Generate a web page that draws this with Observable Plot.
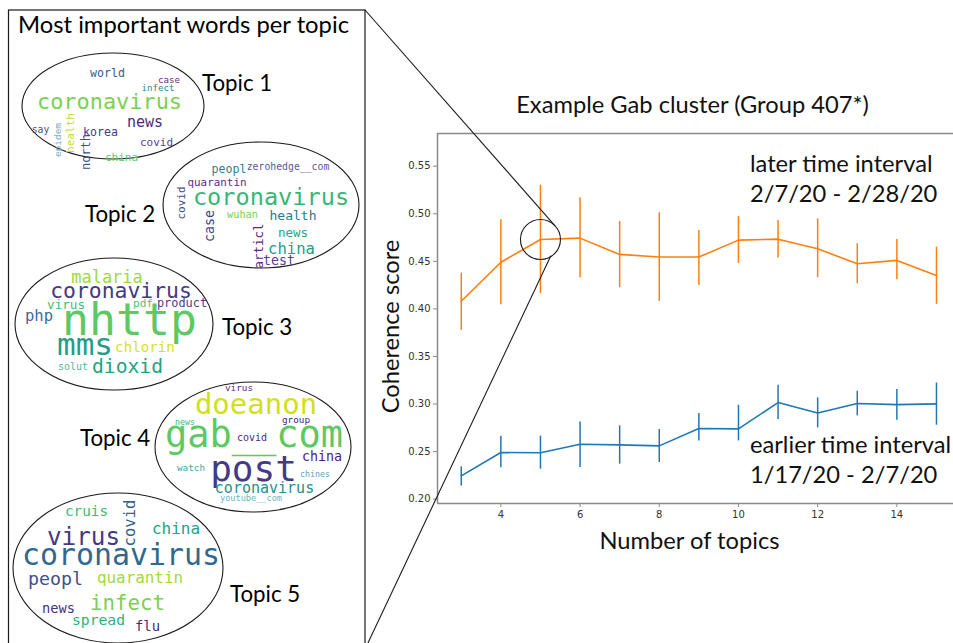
<!DOCTYPE html>
<html>
<head>
<meta charset="utf-8">
<script src="https://cdn.jsdelivr.net/npm/d3@7"></script>
<script src="https://cdn.jsdelivr.net/npm/@observablehq/plot@0.6"></script>
<style>
html,body{margin:0;padding:0;background:#fff;}
#chart{width:953px;height:643px;overflow:hidden;}
</style>
</head>
<body>
<div id="chart"></div>
<script>
// ================= DATA =================
const topics = [3, 4, 5, 6, 7, 8, 9, 10, 11, 12, 13, 14, 15];

// later time interval (orange)
const laterMean = [0.408, 0.449, 0.473, 0.4744, 0.4573, 0.4545, 0.4545, 0.4723, 0.4733, 0.4632, 0.4475, 0.451, 0.4352];
const laterLow  = [0.3775, 0.4044, 0.416, 0.4328, 0.4223, 0.408, 0.4247, 0.4478, 0.4534, 0.4328, 0.4265, 0.4307, 0.4048];
const laterHigh = [0.4376, 0.4937, 0.530, 0.5168, 0.4919, 0.501, 0.4824, 0.4971, 0.4929, 0.4947, 0.4685, 0.473, 0.4649];

// earlier time interval (blue)
const earlierMean = [0.2245, 0.249, 0.2487, 0.2577, 0.257, 0.256, 0.2742, 0.2739, 0.3015, 0.2906, 0.3005, 0.2994, 0.3001];
const earlierLow  = [0.2137, 0.2329, 0.2315, 0.2333, 0.2368, 0.2385, 0.2612, 0.2612, 0.2837, 0.2749, 0.2875, 0.2829, 0.2777];
const earlierHigh = [0.2339, 0.2662, 0.2662, 0.2812, 0.277, 0.2732, 0.290, 0.2987, 0.3197, 0.3064, 0.3134, 0.3152, 0.3221];

const xTicks = [4, 6, 8, 10, 12, 14];
const yTicks = [0.20, 0.25, 0.30, 0.35, 0.40, 0.45, 0.50, 0.55];

const chartTitle = "Example Gab cluster (Group 407*)";
const xLabel = "Number of topics";
const yLabel = "Coherence score";
const annotationTexts = ["later time interval", "2/7/20 - 2/28/20", "earlier time interval", "1/17/20 - 2/7/20"];
const zoomTopic = 5; // number of topics highlighted by the callout circle

const panelTitle = "Most important words per topic";
const topicNames = ["Topic 1", "Topic 2", "Topic 3", "Topic 4", "Topic 5"];
const topicWords = [
  ["world", "case", "infect", "coronavirus", "news", "say", "epidem", "health", "korea", "north", "covid", "china"],
  ["peopl", "zerohedge__com", "quarantin", "covid", "coronavirus", "wuhan", "health", "case", "news", "articl", "china", "test"],
  ["malaria", "coronavirus", "virus", "pdf", "product", "php", "nhttp", "mms", "chlorin", "solut", "dioxid"],
  ["virus", "doeanon", "news", "group", "gab__com", "covid", "china", "watch", "post", "chines", "coronavirus", "youtube__com"],
  ["cruis", "covid", "china", "virus", "coronavirus", "peopl", "quarantin", "news", "infect", "spread", "flu"]
];

// ================= LAYOUT / STYLE =================
const ORANGE = "#ff7f0e", BLUE = "#1f77b4", SPINE = "#8a8a8a";
const LABEL_FONT = "Lato, 'Open Sans', sans-serif";
const CLOUD_FONT = "'DejaVu Sans Mono', monospace";
const xDomain = [2.4, 15.43];
const yDomain = [0.1954, 0.5844];

// annotation anchor positions (data units)
const annotX = [10.29, 10.29, 10.29, 10.29];
const annotY = [0.5517, 0.5207, 0.2566, 0.2251];

// word cloud panel layout (pixels): [x, y, fontSize, rotate, color]
const wordLayout = [
  [[107.5,73,11.6,0,"#3e5a94"],[169,80,9.1,0,"#6b2a80"],[158,88,9.1,0,"#2a8a8c"],[109.5,101,21.9,0,"#7ad151"],
   [145,122,15,0,"#4b2a7d"],[40.5,129,9.7,0,"#4a4f8f"],[57,140,9.4,-90,"#7aa9c0"],[70,133,11.1,-90,"#c8dc3a"],
   [100.5,132,11.6,0,"#433e85"],[86,152,12,-90,"#3b528b"],[156.5,142,11,0,"#5a3e8f"],[121.5,157,11,0,"#5ec962"]],
  [[229,169,11.6,0,"#2c7f8e"],[288,166,9.8,0,"#5a5892"],[217,182,10.9,0,"#5b2d82"],[181,203,11,-90,"#45458a"],
   [271,197,23.6,0,"#35b779"],[242.5,214,10.3,0,"#7ad151"],[293,215,13,0,"#2a788e"],[209,226,13.3,-90,"#3e4989"],
   [293,232,12.5,0,"#22a884"],[258,246,12.5,-90,"#5b2a86"],[291.5,249,15.6,0,"#1f9e89"],[279,260,13.3,0,"#5b3f8f"]],
  [[107,277,17,0,"#a0da39"],[121,290,21.4,0,"#443983"],[66,304,12.6,0,"#3fbc73"],[143,303,11,0,"#4fc36a"],
   [182,303,11.9,0,"#4e3b8f"],[39,316,15.5,0,"#3b6c9e"],[129.5,319,44.8,0,"#5ec962"],[85,344,31,0,"#1f9e89"],
   [145,347,14.2,0,"#d8e219"],[73,366,10,0,"#4fb8a5"],[127.5,366,19.7,0,"#20a486"]],
  [[239,387,9.3,0,"#5b2a86"],[256,404,29,0,"#d0e11c"],[185,422,8.3,0,"#3bbb75"],[296,419,9.3,0,"#482878"],
   [254,434,37,0,"#5ec962"],[252,437,10,0,"#472d7b"],[322,456,13.3,0,"#482475"],[191,467,9.3,0,"#4aa3a8"],
   [253.5,468,36,0,"#443983"],[315,474,8.3,0,"#5aa4b8"],[264.5,488,15,0,"#21918c"],[251,498,8.6,0,"#6fb4c6"]],
  [[86.5,511,14.3,0,"#3cbb75"],[130,523,15.6,-90,"#33638d"],[176,528,16,0,"#25a18e"],[83.5,536,24.3,0,"#443983"],
   [121,554,29.9,0,"#31688e"],[55.5,578,18.3,0,"#3b528b"],[140,577,15.9,0,"#a0da39"],[58.5,608,13.7,0,"#46327e"],
   [127.5,603,20.8,0,"#7ad151"],[98.5,619,14.7,0,"#2db27d"],[147.5,626,13.8,0,"#482878"]]
];
// ellipses: [cx, cy, rx, ry]
const ellipseLayout = [[113,106,91,53],[261,205,98,63],[114,324,99,66],[253,447,98,65],[118,568,105,75]];
// topic label positions: [x (start), baseline]
const topicLabelLayout = [[202,91],[85,222],[222,335],[80,446],[230,602]];

// ================= BUILD =================
const later = topics.map((t, i) => ({t, m: laterMean[i], lo: laterLow[i], hi: laterHigh[i]}));
const earlier = topics.map((t, i) => ({t, m: earlierMean[i], lo: earlierLow[i], hi: earlierHigh[i]}));
const annots = annotationTexts.map((text, i) => ({text, x: annotX[i], y: annotY[i]}));
const zoomPoint = later.filter(d => d.t === zoomTopic);

function leftPanel() {
  const g = d3.create("svg:g");
  g.append("rect").attr("x", 8.5).attr("y", 10).attr("width", 356.5).attr("height", 660)
    .attr("fill", "none").attr("stroke", "#1a1a1a").attr("stroke-width", 1.2);
  g.append("text").attr("x", 18).attr("y", 33).attr("text-anchor", "start")
    .attr("font-family", LABEL_FONT).attr("font-size", 23.8).attr("fill", "#000").text(panelTitle);
  ellipseLayout.forEach(([cx, cy, rx, ry]) => {
    g.append("ellipse").attr("cx", cx).attr("cy", cy).attr("rx", rx).attr("ry", ry)
      .attr("fill", "none").attr("stroke", "#1a1a1a").attr("stroke-width", 1.1);
  });
  topicNames.forEach((name, i) => {
    const [x, y] = topicLabelLayout[i];
    g.append("text").attr("x", x).attr("y", y).attr("text-anchor", "start")
      .attr("font-family", LABEL_FONT).attr("font-size", 22.3).attr("fill", "#000").text(name);
  });
  topicWords.forEach((words, ti) => {
    words.forEach((w, wi) => {
      const [x, y, s, r, c] = wordLayout[ti][wi];
      g.append("text")
        .attr("transform", `translate(${x},${y}) rotate(${r})`)
        .attr("text-anchor", "middle").attr("dominant-baseline", "central")
        .attr("font-family", CLOUD_FONT).attr("font-size", s).attr("fill", c).text(w);
    });
  });
  return g.node();
}

function callout(index, scales) {
  const g = d3.create("svg:g");
  const cx = scales.x(zoomPoint[0].t), cy = scales.y(zoomPoint[0].m), r = 20;
  const a1 = -41 * Math.PI / 180, a2 = 57 * Math.PI / 180;
  g.append("line").attr("x1", 365).attr("y1", 10).attr("x2", cx + r * Math.cos(a1)).attr("y2", cy + r * Math.sin(a1))
    .attr("stroke", "#1a1a1a").attr("stroke-width", 1.1);
  g.append("line").attr("x1", 367).attr("y1", 645).attr("x2", cx + r * Math.cos(a2)).attr("y2", cy + r * Math.sin(a2))
    .attr("stroke", "#1a1a1a").attr("stroke-width", 1.1);
  return g.node();
}

const BIG = 23.7;
const textOpts = {fontFamily: LABEL_FONT, fontSize: BIG, fill: "#111", text: d => d, textAnchor: "middle", lineAnchor: "middle"};

const svg = Plot.plot({
  width: 953,
  height: 643,
  marginLeft: 437,
  marginRight: 0,
  marginTop: 133,
  marginBottom: 140,
  style: {fontFamily: "'DejaVu Sans', sans-serif", fontSize: "10px", color: "#333", background: "#fff"},
  x: {domain: xDomain, ticks: xTicks, tickSize: 4, tickPadding: 3, label: null},
  y: {domain: yDomain, ticks: yTicks, tickFormat: d3.format(".2f"), tickSize: 4, tickPadding: 3, label: null},
  marks: [
    leftPanel,
    Plot.ruleX([xDomain[0]], {stroke: SPINE, strokeWidth: 1.5}),
    Plot.ruleY([yDomain[0]], {stroke: SPINE, strokeWidth: 1.5}),
    Plot.ruleY([yDomain[1]], {stroke: SPINE, strokeWidth: 1.5}),
    Plot.ruleX(later, {x: "t", y1: "lo", y2: "hi", stroke: ORANGE, strokeWidth: 1.5}),
    Plot.line(later, {x: "t", y: "m", stroke: ORANGE, strokeWidth: 1.6}),
    Plot.ruleX(earlier, {x: "t", y1: "lo", y2: "hi", stroke: BLUE, strokeWidth: 1.5}),
    Plot.line(earlier, {x: "t", y: "m", stroke: BLUE, strokeWidth: 1.6}),
    Plot.dot(zoomPoint, {x: "t", y: "m", r: 20, stroke: "#1a1a1a", strokeWidth: 1.1, fill: "none"}),
    callout,
    Plot.text(annots, {x: "x", y: "y", text: "text", textAnchor: "start", lineAnchor: "middle", fontFamily: LABEL_FONT, fontSize: BIG, fill: "#111"}),
    Plot.text([chartTitle], {...textOpts, frameAnchor: "top", dx: -3, dy: -28}),
    Plot.text([xLabel], {...textOpts, frameAnchor: "bottom", dx: -6, dy: 38}),
    Plot.text([yLabel], {...textOpts, frameAnchor: "left", rotate: -90, dx: -46, dy: 8})
  ]
});

d3.select(svg).selectAll('g[aria-label*="tick"] path, g[aria-label*="axis"] line, g[aria-label*="axis"] path').attr("stroke", SPINE);
d3.select(svg).selectAll('g[aria-label*="axis"] text, g[aria-label*="tick label"] text').attr("fill", "#333");
document.getElementById("chart").appendChild(svg);
</script>
</body>
</html>
